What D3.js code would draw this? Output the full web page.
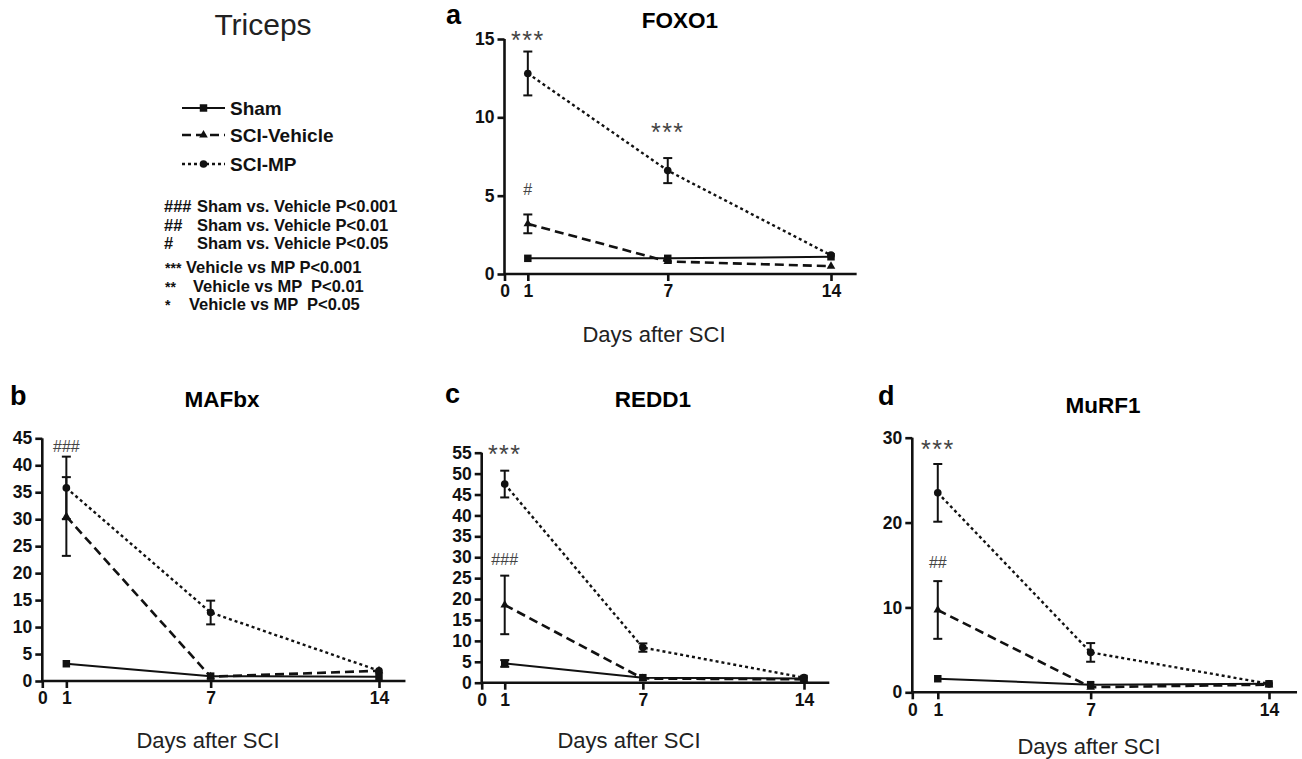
<!DOCTYPE html>
<html>
<head>
<meta charset="utf-8">
<script src="https://cdn.jsdelivr.net/npm/d3@7"></script>
<style>
  html, body { margin: 0; padding: 0; background: #fff; }
  svg { display: block; font-family: "Liberation Sans", Arial, sans-serif; }
</style>
</head>
<body>
<svg id="chart" width="1302" height="759"></svg>
<script>
var days = [1, 7, 14];
var xTicks = [0, 1, 7, 14];
var groups = ['Sham', 'SCI-Vehicle', 'SCI-MP'];

var foxo1Sham = [1.0, 1.0, 1.1], foxo1ShamErr = [0.1, 0.1, 0.1];
var foxo1Vehicle = [3.2, 0.8, 0.5], foxo1VehicleErr = [0.6, 0.1, 0.05];
var foxo1MP = [12.8, 6.6, 1.2], foxo1MPErr = [1.4, 0.8, 0.1];

var mafbxSham = [3.2, 0.9, 0.8], mafbxShamErr = [0.3, 0.1, 0.1];
var mafbxVehicle = [30.5, 0.8, 1.9], mafbxVehicleErr = [7.3, 0.2, 0.3];
var mafbxMP = [35.8, 12.7, 1.9], mafbxMPErr = [5.8, 2.2, 0.3];

var redd1Sham = [4.6, 1.2, 1.0], redd1ShamErr = [0.8, 0.2, 0.1];
var redd1Vehicle = [18.6, 1.0, 0.8], redd1VehicleErr = [7.0, 0.2, 0.1];
var redd1MP = [47.5, 8.4, 1.2], redd1MPErr = [3.2, 1.0, 0.2];

var murf1Sham = [1.6, 0.9, 1.0], murf1ShamErr = [0.2, 0.1, 0.1];
var murf1Vehicle = [9.7, 0.6, 0.9], murf1VehicleErr = [3.4, 0.1, 0.1];
var murf1MP = [23.5, 4.7, 1.0], murf1MPErr = [3.4, 1.1, 0.1];

var foxo1Ticks = [0, 5, 10, 15];
var mafbxTicks = d3.range(0, 50, 5);
var redd1Ticks = d3.range(0, 60, 5);
var murf1Ticks = [0, 10, 20, 30];

var foxo1Marks = [{day: 1, v: 15.2, t: '***'}, {day: 7, v: 9.3, t: '***'}, {day: 1, v: 5.4, t: '#'}];
var mafbxMarks = [{day: 1, v: 43.6, t: '###'}];
var redd1Marks = [{day: 1, v: 55.6, t: '***'}, {day: 1, v: 29.6, t: '###'}];
var murf1Marks = [{day: 1, v: 29.1, t: '***'}, {day: 1, v: 15.4, t: '##'}];

var legendStats = [
  ['###', 'Sham vs. Vehicle P<0.001'],
  ['##', 'Sham vs. Vehicle P<0.01'],
  ['#', 'Sham vs. Vehicle P<0.05']
];
var legendStats2 = [
  ['***', 'Vehicle vs MP P<0.001', 186],
  ['**', 'Vehicle vs MP  P<0.01', 193],
  ['*', 'Vehicle vs MP  P<0.05', 189]
];

var styles = [
  {dash: null, width: 2, marker: 'square'},
  {dash: '9,5', width: 2.6, marker: 'triangle'},
  {dash: '3,3', width: 2.4, marker: 'circle'}
];

var svg = d3.select('#chart');

function marker(g, type, x, y) {
  var sym = type === 'square' ? d3.symbolSquare : type === 'triangle' ? d3.symbolTriangle : d3.symbolCircle;
  var size = type === 'square' ? 56 : type === 'triangle' ? 32 : 46;
  g.append('path').attr('d', d3.symbol().type(sym).size(size)())
    .attr('transform', 'translate(' + x + ',' + y + ')').attr('fill', '#111');
}

function panel(p) {
  var g = svg.append('g');
  var x = d3.scaleLinear().domain([0, 14]).range([p.x0, p.x14]);
  var y = d3.scaleLinear().domain([0, p.ticks[p.ticks.length - 1]]).range([p.y0, p.yTop]);

  g.append('text').attr('x', p.letterX).attr('y', p.letterY).attr('font-size', 27).attr('font-weight', 'bold').text(p.letter);
  g.append('text').attr('x', p.titleX).attr('y', p.titleY).attr('text-anchor', 'middle').attr('font-size', 22.5).attr('font-weight', 'bold').text(p.title);

  var yAxis = g.append('g').attr('transform', 'translate(' + p.x0 + ',0)')
    .call(d3.axisLeft(y).tickValues(p.ticks).tickSize(7).tickPadding(3).tickFormat(d3.format('d')));
  var xAxis = g.append('g').attr('transform', 'translate(0,' + p.y0 + ')')
    .call(d3.axisBottom(x).tickValues(xTicks).tickSize(7).tickPadding(4).tickFormat(d3.format('d')));
  xAxis.select('.domain').attr('d', 'M' + p.x0 + ',0H' + x(p.xEnd));
  yAxis.select('.domain').attr('d', 'M0,' + y(0) + 'V' + y(p.ticks[p.ticks.length - 1]));
  [xAxis, yAxis].forEach(function(a) {
    a.selectAll('path, line').attr('stroke', '#111').attr('stroke-width', 2.6);
    a.selectAll('text').attr('font-size', 17.5).attr('font-weight', 'bold').attr('fill', '#111')
      .attr('font-family', '"Liberation Sans", Arial, sans-serif');
  });

  g.append('text').attr('x', p.xlabX).attr('y', p.xlabY).attr('text-anchor', 'middle').attr('font-size', 22).attr('fill', '#222').text('Days after SCI');

  var line = d3.line().x(function(d) { return x(d[0]); }).y(function(d) { return y(d[1]); });
  p.series.forEach(function(s, i) {
    var pts = days.map(function(d, j) { return [d, s.v[j]]; });
    g.append('path').datum(pts).attr('d', line).attr('fill', 'none').attr('stroke', '#111')
      .attr('stroke-width', styles[i].width).attr('stroke-dasharray', styles[i].dash);
    days.forEach(function(d, j) {
      var cx = x(d), lo = y(s.v[j] - s.e[j]), hi = y(s.v[j] + s.e[j]);
      if (lo - hi > 4) {
        g.append('line').attr('x1', cx).attr('x2', cx).attr('y1', lo).attr('y2', hi).attr('stroke', '#111').attr('stroke-width', 2);
        [lo, hi].forEach(function(yy) {
          g.append('line').attr('x1', cx - 4.5).attr('x2', cx + 4.5).attr('y1', yy).attr('y2', yy).attr('stroke', '#111').attr('stroke-width', 2);
        });
      }
      marker(g, styles[i].marker, cx, y(s.v[j]));
    });
  });

  p.marks.forEach(function(m) {
    var star = m.t.charAt(0) === '*';
    g.append('text').attr('x', x(m.day)).attr('y', y(m.v) + (star ? 13 : 6)).attr('text-anchor', 'middle')
      .attr('font-size', star ? 25 : 16).attr('letter-spacing', star ? 1.5 : 0).attr('fill', '#444').text(m.t);
  });
}

panel({letter: 'a', letterX: 446, letterY: 24, title: 'FOXO1', titleX: 680, titleY: 28,
  x0: 504.5, x14: 831, xEnd: 15.1, y0: 274, yTop: 39, ticks: foxo1Ticks, xlabX: 654, xlabY: 342,
  series: [{v: foxo1Sham, e: foxo1ShamErr}, {v: foxo1Vehicle, e: foxo1VehicleErr}, {v: foxo1MP, e: foxo1MPErr}],
  marks: foxo1Marks});
panel({letter: 'b', letterX: 10, letterY: 405, title: 'MAFbx', titleX: 222, titleY: 407,
  x0: 42.3, x14: 379, xEnd: 15.1, y0: 681, yTop: 438.3, ticks: mafbxTicks, xlabX: 208, xlabY: 748,
  series: [{v: mafbxSham, e: mafbxShamErr}, {v: mafbxVehicle, e: mafbxVehicleErr}, {v: mafbxMP, e: mafbxMPErr}],
  marks: mafbxMarks});
panel({letter: 'c', letterX: 445, letterY: 403, title: 'REDD1', titleX: 653, titleY: 407,
  x0: 481.7, x14: 804, xEnd: 15.1, y0: 682.7, yTop: 452.7, ticks: redd1Ticks, xlabX: 629, xlabY: 748,
  series: [{v: redd1Sham, e: redd1ShamErr}, {v: redd1Vehicle, e: redd1VehicleErr}, {v: redd1MP, e: redd1MPErr}],
  marks: redd1Marks});
panel({letter: 'd', letterX: 878, letterY: 405, title: 'MuRF1', titleX: 1103, titleY: 413,
  x0: 912.3, x14: 1269, xEnd: 15.1, y0: 692.3, yTop: 437.7, ticks: murf1Ticks, xlabX: 1089, xlabY: 754,
  series: [{v: murf1Sham, e: murf1ShamErr}, {v: murf1Vehicle, e: murf1VehicleErr}, {v: murf1MP, e: murf1MPErr}],
  marks: murf1Marks});

// legend
var leg = svg.append('g');
leg.append('text').attr('x', 263).attr('y', 35).attr('text-anchor', 'middle').attr('font-size', 30).attr('fill', '#222').text('Triceps');
groups.forEach(function(name, i) {
  var yy = [108, 135, 164][i];
  leg.append('line').attr('x1', 182).attr('x2', 225).attr('y1', yy).attr('y2', yy).attr('stroke', '#111')
    .attr('stroke-width', styles[i].width).attr('stroke-dasharray', styles[i].dash);
  marker(leg, styles[i].marker, 203.5, yy);
  leg.append('text').attr('x', 230).attr('y', yy + 7).attr('font-size', 19).attr('font-weight', 'bold').attr('fill', '#111').text(name);
});
legendStats.forEach(function(r, i) {
  var yy = 212 + i * 18.5;
  leg.append('text').attr('x', 164).attr('y', yy).attr('font-size', 16.5).attr('font-weight', 'bold').attr('fill', '#111').text(r[0]);
  leg.append('text').attr('x', 197).attr('y', yy).attr('font-size', 16.5).attr('font-weight', 'bold').attr('fill', '#111').attr('xml:space', 'preserve').text(r[1]);
});
legendStats2.forEach(function(r, i) {
  var yy = 273 + i * 18.5;
  leg.append('text').attr('x', 165).attr('y', yy).attr('font-size', 14).attr('font-weight', 'bold').attr('fill', '#111').text(r[0]);
  leg.append('text').attr('x', r[2]).attr('y', yy).attr('font-size', 16.5).attr('font-weight', 'bold').attr('fill', '#111').attr('xml:space', 'preserve').text(r[1]);
});
</script>
</body>
</html>
